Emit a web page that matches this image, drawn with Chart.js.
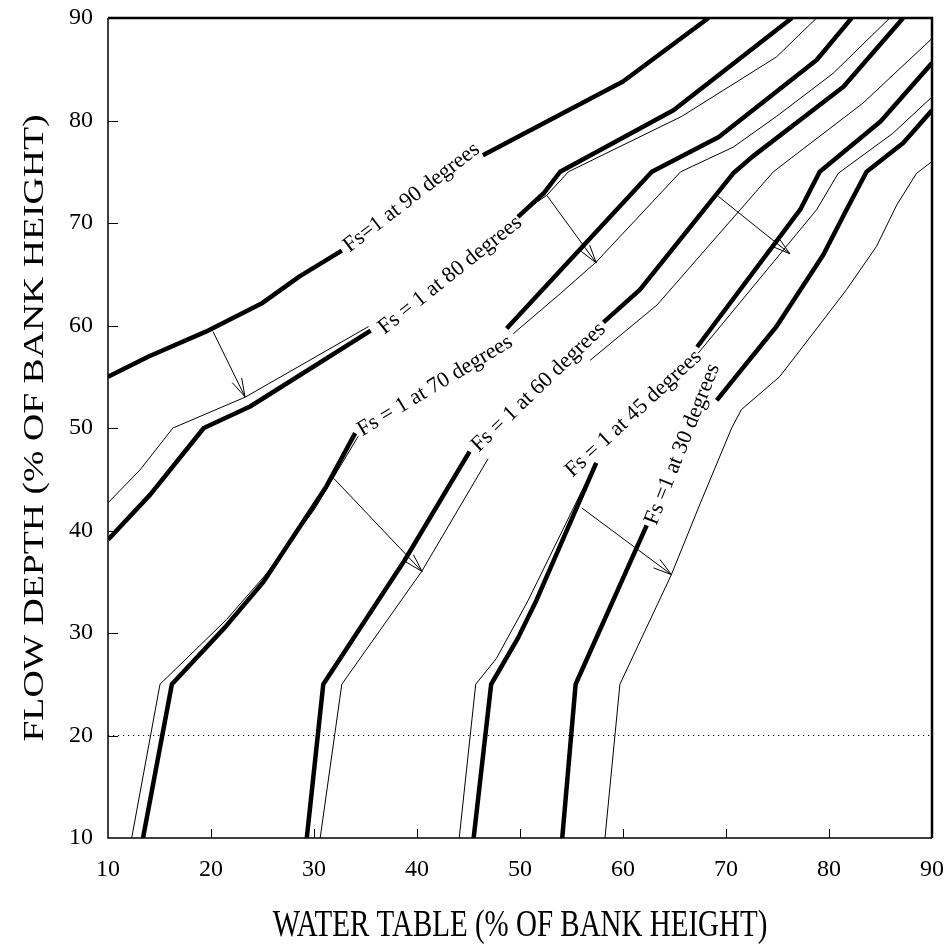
<!DOCTYPE html>
<html>
<head>
<meta charset="utf-8">
<script src="https://cdn.jsdelivr.net/npm/chart.js@4.4.1/dist/chart.umd.min.js"></script>
<style>
  html, body { margin: 0; padding: 0; background: #fff; }
  #wrap { width: 948px; height: 946px; position: relative; }
</style>
</head>
<body>
<div id="wrap"><canvas id="chart"></canvas></div>
<script>
// x = water table, y = flow depth (both % of bank height)
const xTicks = [10, 20, 30, 40, 50, 60, 70, 80, 90];
const yTicks = [10, 20, 30, 40, 50, 60, 70, 80, 90];

// heavy curves, split where the label sits
const thick90a = [[10,55],[14,57],[19.5,59.4],[25,62.2],[28.6,64.8],[32.7,67.3]];
const thick90b = [[46.4,76.6],[60,83.8],[68.3,90]];
const thick80a = [[10,39.1],[14.1,43.5],[19.3,50],[23.8,52.1],[35.5,59.5]];
const thick80b = [[49.8,70.6],[52.3,72.9],[53.9,75],[64.9,81],[76.4,90]];
const thick70a = [[13.4,10],[16.2,25],[21.4,30.6],[25.1,35],[31.2,44.3],[34,49.5]];
const thick70b = [[48.7,59.7],[62.8,75],[69.3,78.4],[78.8,85.9],[82.2,90]];
const thick60a = [[29.3,10],[30.9,25],[38.8,37.1],[45.1,47.7]];
const thick60b = [[58.1,60.3],[61.65,63.5],[70.7,74.85],[72.6,76.5],[81.4,83.3],[87.2,90]];
const thick45a = [[45.5,10],[47.2,25],[49.8,29.5],[51.6,33.2],[57.4,46.6]];
const thick45b = [[67.2,57.9],[77.2,71.3],[79.1,75],[85,79.9],[90,85.6]];
const thick30a = [[54.1,10],[55.4,25],[62.3,40.5]];
const thick30b = [[69.1,52.7],[70.7,54.7],[74.9,59.9],[79.45,66.9],[81.7,71.3],[83.65,75],[87.2,77.8],[90,81]];

// light curves
const thin80a = [[10,42.7],[13.1,45.9],[16.3,50],[23.3,53],[35.3,59.9]];
const thin80b = [[50,70.9],[52.6,72.7],[54.7,75],[65.7,80.4],[74.9,86.2],[78.8,90]];
const thin70a = [[12.3,10],[15.05,25],[21.5,31.3],[25.4,35.8],[30,42],[34.3,49.2]];
const thin70b = [[49.35,59.2],[53.9,63.1],[57.4,66.2],[65.6,75],[70.7,77.4],[74.9,80.4],[80.4,84.6],[85.9,90]];
const thin60a = [[30.6,10],[32.7,25],[40.45,36],[46.9,47]];
const thin60b = [[56.8,56.6],[63.3,62],[74.6,75],[83.3,81.7],[90,88]];
const thin45a = [[44.1,10],[45.7,25],[47.7,27.5],[50.8,33.2],[57,45.9]];
const thin45b = [[67.3,57.3],[78.8,71.3],[80.9,74.85],[86.2,78.75],[90,82.3]];
const thin30 = [[58.25,10],[59.7,25],[64.7,35.7],[67.5,42.65],[70.55,50],[71.5,51.8],[75.2,55],[78.2,58.9],[81.7,63.5],[84.6,67.7],[86.6,71.8],[88.5,74.85],[90,76]];

const refLine = [[10,20],[90,20]];

const curveLabels = [
  { text: 'Fs=1 at 90 degrees',   from: [33.5,67.85], to: [45.47,77.12] },
  { text: 'Fs = 1 at 80 degrees', from: [36.73,59.73], to: [49.7,70.1] },
  { text: 'Fs = 1 at 70 degrees', from: [34.63,49.8], to: [48.87,58.42] },
  { text: 'Fs = 1 at 60 degrees', from: [46,48.4], to: [57.6,59.56] },
  { text: 'Fs = 1 at 45 degrees', from: [54.85,45.7], to: [67.2,57.1] },
  { text: 'Fs =1 at 30 degrees',  from: [62.79,40.86], to: [68.77,55.98] }
];

const arrows = [
  [[20.2,59.4],[23.3,53.05]],
  [[52.6,72.7],[57.4,66.1]],
  [[69.25,72.6],[76.2,67.0]],
  [[31.9,45.1],[40.5,36.0]],
  [[56.0,42.2],[64.7,35.7]]
];

const SERIF = '"Liberation Serif", "Times New Roman", serif';
const STRETCH = 1.28; // axis titles in the source are stretched vertically

const heavy = [thick90a, thick90b, thick80a, thick80b, thick70a, thick70b,
               thick60a, thick60b, thick45a, thick45b, thick30a, thick30b];
const light = [thin80a, thin80b, thin70a, thin70b, thin60a, thin60b,
               thin45a, thin45b, thin30];

const toXY = pts => pts.map(([x, y]) => ({ x, y }));

const datasets = [];
light.forEach(p => datasets.push({ data: toXY(p), borderColor: '#000', borderWidth: 1 }));
heavy.forEach(p => datasets.push({ data: toXY(p), borderColor: '#000', borderWidth: 4.5 }));
datasets.push({ data: toXY(refLine), borderColor: '#000', borderWidth: 1, borderDash: [1.2, 3.8] });

const frame = {
  id: 'frame',
  afterDraw(chart) {
    const { ctx, chartArea: a, scales: { x, y } } = chart;
    ctx.save();
    ctx.strokeStyle = '#000';
    ctx.lineCap = 'butt';

    // inward tick marks
    ctx.lineWidth = 1;
    xTicks.slice(1, -1).forEach(v => {
      const px = Math.round(x.getPixelForValue(v)) + 0.5;
      ctx.beginPath(); ctx.moveTo(px, a.bottom); ctx.lineTo(px, a.bottom - 9); ctx.stroke();
    });
    yTicks.slice(1, -1).forEach(v => {
      const py = Math.round(y.getPixelForValue(v)) + 0.5;
      ctx.beginPath(); ctx.moveTo(a.left, py); ctx.lineTo(a.left + 10, py); ctx.stroke();
    });

    // plot box: left/bottom light, top/right heavy
    ctx.lineWidth = 1.5;
    ctx.beginPath();
    ctx.moveTo(a.left, a.top); ctx.lineTo(a.left, a.bottom); ctx.lineTo(a.right, a.bottom);
    ctx.stroke();
    ctx.lineWidth = 2.5;
    ctx.beginPath();
    ctx.moveTo(a.left, a.top); ctx.lineTo(a.right, a.top); ctx.lineTo(a.right, a.bottom);
    ctx.stroke();

    // arrows
    ctx.lineWidth = 1;
    arrows.forEach(([f, t]) => {
      const x1 = x.getPixelForValue(f[0]), y1 = y.getPixelForValue(f[1]);
      const x2 = x.getPixelForValue(t[0]), y2 = y.getPixelForValue(t[1]);
      const ang = Math.atan2(y2 - y1, x2 - x1);
      ctx.beginPath(); ctx.moveTo(x1, y1); ctx.lineTo(x2, y2); ctx.stroke();
      [-0.28, 0.28].forEach(d => {
        ctx.beginPath();
        ctx.moveTo(x2, y2);
        ctx.lineTo(x2 - 19 * Math.cos(ang + d), y2 - 19 * Math.sin(ang + d));
        ctx.stroke();
      });
    });

    // curve labels along their curves
    ctx.fillStyle = '#000';
    ctx.font = '22px ' + SERIF;
    ctx.textAlign = 'center';
    ctx.textBaseline = 'middle';
    curveLabels.forEach(l => {
      const x1 = x.getPixelForValue(l.from[0]), y1 = y.getPixelForValue(l.from[1]);
      const x2 = x.getPixelForValue(l.to[0]), y2 = y.getPixelForValue(l.to[1]);
      ctx.save();
      ctx.translate((x1 + x2) / 2, (y1 + y2) / 2);
      ctx.rotate(Math.atan2(y2 - y1, x2 - x1));
      ctx.fillText(l.text, 0, 0);
      ctx.restore();
    });

    // axis titles
    ctx.font = '29px ' + SERIF;
    ctx.save();
    ctx.translate((a.left + a.right) / 2, 926);
    ctx.scale(1, STRETCH);
    ctx.fillText('WATER TABLE (% OF BANK HEIGHT)', 0, 0);
    ctx.restore();
    ctx.save();
    ctx.translate(35, (a.top + a.bottom) / 2);
    ctx.rotate(-Math.PI / 2);
    ctx.scale(1.3, 1);
    ctx.fillText('FLOW DEPTH (% OF BANK HEIGHT)', 0, 0);
    ctx.restore();

    ctx.restore();
  }
};

const tickFont = { family: SERIF, size: 24 };

new Chart(document.getElementById('chart'), {
  type: 'line',
  data: { datasets },
  options: {
    responsive: true,
    maintainAspectRatio: false,
    animation: false,
    layout: { padding: { top: 18, right: 16, left: 0, bottom: 0 } },
    plugins: { legend: { display: false }, tooltip: { enabled: false } },
    elements: {
      point: { radius: 0, hoverRadius: 0 },
      line: { tension: 0, fill: false, borderJoinStyle: 'round', borderCapStyle: 'butt' }
    },
    scales: {
      x: {
        type: 'linear', min: 10, max: 90,
        afterBuildTicks: s => { s.ticks = xTicks.map(v => ({ value: v })); },
        afterFit: s => { s.height = 108; s.paddingLeft = 0; s.paddingRight = 0; },
        grid: { display: false, drawTicks: false },
        border: { display: false },
        ticks: { font: tickFont, color: '#000', padding: 17, maxRotation: 0, autoSkip: false }
      },
      y: {
        type: 'linear', min: 10, max: 90,
        afterBuildTicks: s => { s.ticks = yTicks.map(v => ({ value: v })); },
        afterFit: s => { s.width = 108; s.paddingTop = 0; s.paddingBottom = 0; },
        grid: { display: false, drawTicks: false },
        border: { display: false },
        ticks: { font: tickFont, color: '#000', padding: 15, autoSkip: false }
      }
    }
  },
  plugins: [frame]
});
</script>
</body>
</html>
